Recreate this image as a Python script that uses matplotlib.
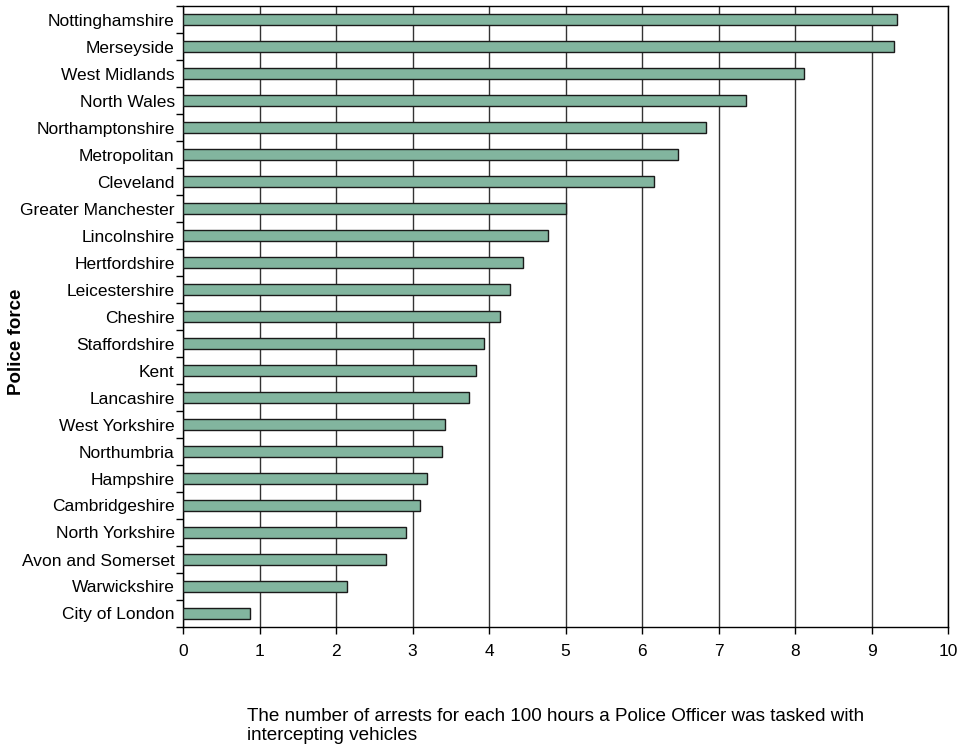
import matplotlib
matplotlib.use("Agg")
import matplotlib.pyplot as plt
import numpy as np

plt.rcParams['font.family'] = ['Liberation Sans', 'DejaVu Sans']

forces = ["Nottinghamshire", "Merseyside", "West Midlands", "North Wales",
          "Northamptonshire", "Metropolitan", "Cleveland", "Greater Manchester",
          "Lincolnshire", "Hertfordshire", "Leicestershire", "Cheshire",
          "Staffordshire", "Kent", "Lancashire", "West Yorkshire", "Northumbria",
          "Hampshire", "Cambridgeshire", "North Yorkshire", "Avon and Somerset",
          "Warwickshire", "City of London"]
values = [9.33, 9.29, 8.12, 7.36, 6.84, 6.47, 6.16, 5.01, 4.77, 4.44, 4.27,
          4.14, 3.94, 3.83, 3.74, 3.43, 3.39, 3.19, 3.10, 2.92, 2.66, 2.15, 0.88]
xticks = list(range(0, 11))

fig = plt.figure(figsize=(9.61, 7.49), dpi=100)
ax = fig.add_axes([183/961, 1-627/749, (948-183)/961, (627-6)/749])

n = len(forces)
y = np.arange(n)[::-1]
ax.barh(y, values, height=0.42, color='#82B59F', edgecolor='#1a1a1a',
        linewidth=1.0, zorder=3)

ax.set_xlim(0, 10)
ax.set_ylim(-0.5, n - 0.5)
ax.set_xticks(xticks)
ax.set_xticklabels([str(t) for t in xticks], fontsize=12.5)
ax.set_yticks(y)
ax.set_yticklabels(forces, fontsize=12.5)
ax.tick_params(axis='y', which='major', length=0, pad=6)
ax.set_yticks(np.arange(-0.5, n, 1.0), minor=True)
ax.tick_params(axis='y', which='minor', length=5, width=1, direction='out')
ax.tick_params(axis='x', which='major', length=5, width=1, direction='out', pad=7)

ax.grid(axis='x', color='#333333', linewidth=1.0, zorder=0)
for s in ax.spines.values():
    s.set_linewidth(1.0)
    s.set_color('black')

fig.text(17/961, 1-342/749, "Police force", rotation=90, fontsize=13.5,
         fontweight='bold', ha='center', va='center')
fig.text(247/961, 1-726/749, "The number of arrests for each 100 hours a Police Officer was tasked with\nintercepting vehicles",
         fontsize=13.6, ha='left', va='center', linespacing=1.08)

fig.savefig("out.png", dpi=100)
